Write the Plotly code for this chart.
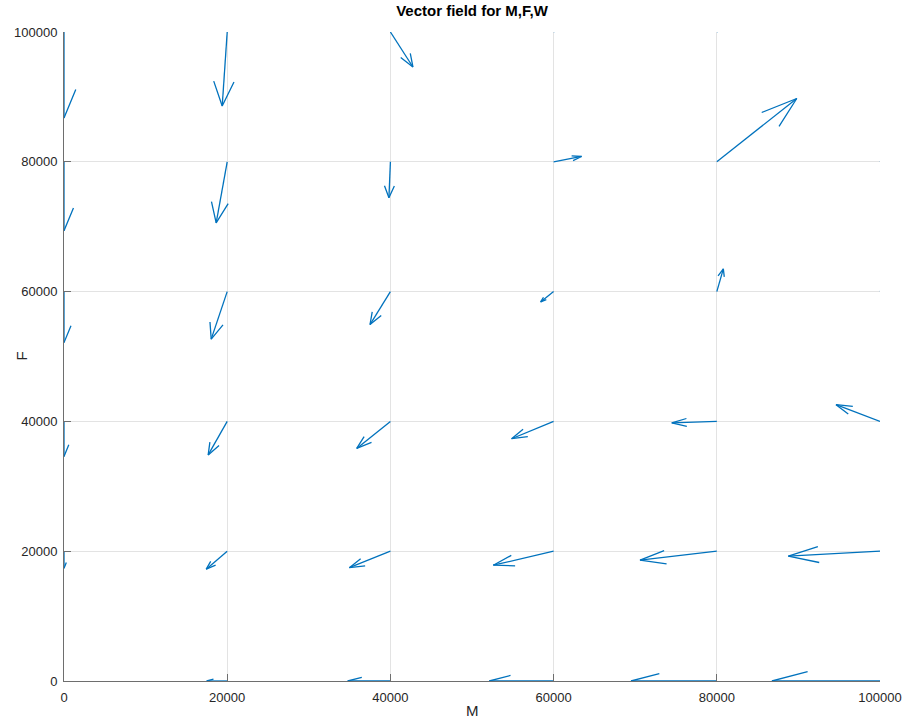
import plotly.graph_objects as go

# Grid points (M, F) and vector components (U, V)
M_vals = [0, 20000, 40000, 60000, 80000, 100000]
F_vals = [0, 20000, 40000, 60000, 80000, 100000]

# U[i][j], V[i][j]: i indexes F (row), j indexes M (column)
U = [
    [0,     -2510, -5230, -7880, -10510, -13240],   # F = 0
    [0,     -2570, -5030, -7390, -9410,  -11240],   # F = 20000
    [0,     -2330, -4130, -5150, -5520,  -5390],    # F = 40000
    [0,     -1960, -2500, -1590,  800,    100],     # F = 60000
    [0,     -1350, -180,   3430,  9800,   100],     # F = 80000
    [0,     -613,   2760,  100,   100,    100],     # F = 100000
]
V = [
    [0,      0,      0,      0,      0,      0],
    [-2620, -2770, -2540, -2160, -1390,  -770],
    [-5390, -5160, -4160, -2670, -230,   2570],
    [-7860, -7320, -5080, -1590,  3500,   100],
    [-10630, -9400, -5550, 820,   9750,   100],
    [-13250, -11400, -5390, 100,  100,    100],
]

x_ticks = [0, 20000, 40000, 60000, 80000, 100000]
y_ticks = [0, 20000, 40000, 60000, 80000, 100000]

alpha, beta = 0.33, 0.33
xs, ys = [], []
for i, f in enumerate(F_vals):
    for j, m in enumerate(M_vals):
        u, v = U[i][j], V[i][j]
        if u == 0 and v == 0:
            continue
        tx, ty = m + u, f + v
        # shaft
        xs += [m, tx, None]
        ys += [f, ty, None]
        # head (MATLAB quiver style)
        xs += [tx - alpha * (u + beta * v), tx, tx - alpha * (u - beta * v), None]
        ys += [ty - alpha * (v - beta * u), ty, ty - alpha * (v + beta * u), None]

fig = go.Figure()
fig.add_trace(go.Scatter(x=xs, y=ys, mode="lines",
                         line=dict(color="#0072BD", width=1.3),
                         hoverinfo="skip", showlegend=False))

FONT = "Liberation Sans, Arial"
axis_common = dict(
    showgrid=True, gridcolor="#e3e3e3", gridwidth=1,
    zeroline=False, showline=True, linecolor="#6e6e6e", linewidth=1,
    ticks="inside", ticklen=7, tickcolor="#6e6e6e",
    tickfont=dict(family=FONT, size=13, color="#262626"),
    tickformat="d", automargin=False,
)
fig.update_xaxes(range=[0, 100000], tickvals=x_ticks, ticklabelstandoff=4, **axis_common)
fig.update_yaxes(range=[0, 100000], tickvals=y_ticks, ticklabelstandoff=3, **axis_common)

W, H = 907, 719
L, R, T, B = 64, 27, 32, 38
fig.update_layout(
    width=W, height=H,
    margin=dict(l=L, r=R, t=T, b=B, autoexpand=False),
    paper_bgcolor="white", plot_bgcolor="white",
    title=dict(text="<b>Vector field for M,F,W</b>", x=472 / W, xanchor="center",
               y=1 - 11 / H, yanchor="middle",
               font=dict(family=FONT, size=15, color="#000000")),
    annotations=[
        dict(text="M", xref="paper", yref="paper", x=0.5, y=-(710 - (H - B)) / (H - T - B),
             xanchor="center", yanchor="middle", showarrow=False,
             font=dict(family=FONT, size=15, color="#262626")),
        dict(text="F", xref="paper", yref="paper", x=-(L - 21) / (W - L - R), y=0.5,
             xanchor="center", yanchor="middle", showarrow=False, textangle=-90,
             font=dict(family=FONT, size=15, color="#262626")),
    ],
)

fig.write_html("out.html", config={"displayModeBar": False},
               post_script="document.body.style.margin='0';")
